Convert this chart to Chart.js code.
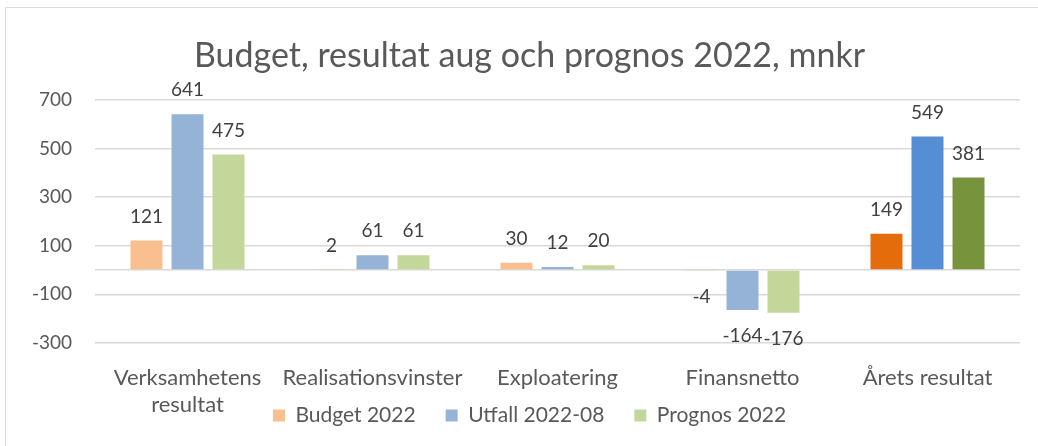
<!DOCTYPE html>
<html>
<head>
<meta charset="utf-8">
<script src="https://cdn.jsdelivr.net/npm/chart.js@4/dist/chart.umd.min.js"></script>
<style>
  html, body { margin: 0; padding: 0; background: #fff; }
  #frame { position: absolute; left: 5px; top: 7px; width: 1040px; height: 450px;
           border-top: 1px solid #d9d9d9; border-left: 1px solid #d9d9d9; }
  #wrap { position: absolute; left: 0; top: 0; width: 1038px; height: 446px; }
</style>
</head>
<body>
<div id="frame"></div>
<div id="wrap"><canvas id="chart"></canvas></div>
<script>
const categories = [
  ["Verksamhetens", "resultat"],
  "Realisationsvinster",
  "Exploatering",
  "Finansnetto",
  "Årets resultat",
];
const budget2022 = [121, 2, 30, -4, 149];
const utfall202208 = [641, 61, 12, -164, 549];
const prognos2022 = [475, 61, 20, -176, 381];
const yTicks = [-300, -100, 0, 100, 300, 500, 700];

const font = "Lato, 'Open Sans', sans-serif";

// light colours for the first categories, dark ones for the last
function barColor(light, dark) {
  return function (ctx) {
    return ctx.dataIndex === categories.length - 1 ? dark : light;
  };
}

const valueLabels = {
  id: "valueLabels",
  afterDatasetsDraw(chart) {
    const c = chart.ctx;
    c.save();
    c.font = "19px " + font;
    c.fillStyle = "#404040";
    c.textAlign = "center";
    c.textBaseline = "middle";
    chart.data.datasets.forEach((ds, i) => {
      const meta = chart.getDatasetMeta(i);
      meta.data.forEach((bar, j) => {
        const v = ds.data[j];
        const y = v < 0 ? bar.y + 26 : bar.y - 24;
        c.fillText(String(v), bar.x, y);
      });
    });
    c.restore();
  },
};

// the legend sits over the second line of the category labels and the
// y labels stick out left of the padding, so widen the label clip boxes
const unclip = {
  id: "unclip",
  afterLayout(chart) {
    chart.scales.x.bottom = chart.height;
    chart.scales.y.left = 0;
  },
};

new Chart(document.getElementById("chart"), {
  type: "bar",
  data: {
    labels: categories,
    datasets: [
      { label: "Budget 2022", data: budget2022, backgroundColor: barColor("#F9BF8F", "#E46C0A") },
      { label: "Utfall 2022-08", data: utfall202208, backgroundColor: barColor("#95B3D7", "#558ED5") },
      { label: "Prognos 2022", data: prognos2022, backgroundColor: barColor("#C4D79B", "#77933C") },
    ],
  },
  options: {
    responsive: true,
    maintainAspectRatio: false,
    animation: false,
    datasets: { bar: { categoryPercentage: 0.665, barPercentage: 0.78 } },
    layout: { padding: { top: 10, left: 39, right: 18, bottom: 10 } },
    plugins: {
      title: {
        display: true,
        text: "Budget, resultat aug och prognos 2022, mnkr",
        color: "#595959",
        font: { family: font, size: 34, weight: "normal" },
        padding: { top: 26, bottom: 23 },
      },
      legend: {
        position: "bottom",
        labels: {
          color: "#595959",
          font: { family: font, size: 21 },
          boxWidth: 12,
          boxHeight: 12,
          padding: 30,
        },
      },
      tooltip: { enabled: false },
    },
    scales: {
      x: {
        grid: { display: false },
        border: { display: false },
        ticks: {
          color: "#595959",
          font: { family: font, size: 22, lineHeight: 1.25 },
          padding: 13,
          maxRotation: 0,
          autoSkip: false,
        },
        afterFit(scale) { scale.height = 32; },
      },
      y: {
        min: -300,
        max: 700,
        border: { display: false },
        grid: { color: "#d9d9d9", lineWidth: 1.5, drawTicks: false },
        ticks: {
          color: "#595959",
          font: { family: font, size: 19 },
          padding: 23,
          callback: (v) => (v === 0 ? "" : v),
        },
        afterBuildTicks(scale) { scale.ticks = yTicks.map((v) => ({ value: v })); },
        afterFit(scale) { scale.width = 56; },
      },
    },
  },
  plugins: [valueLabels, unclip],
});
</script>
</body>
</html>
